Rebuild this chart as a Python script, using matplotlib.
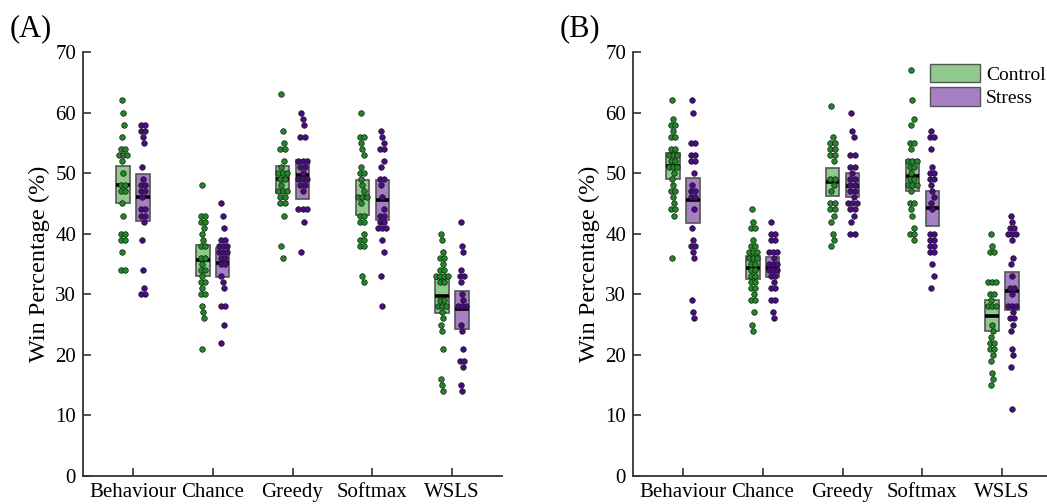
import matplotlib
matplotlib.use("Agg")
import matplotlib.pyplot as plt
from matplotlib.patches import Rectangle, Patch
from collections import Counter

plt.rcParams["font.family"] = ["Liberation Serif", "DejaVu Serif"]

models = ["Behaviour", "Chance", "Greedy", "Softmax", "WSLS"]

# win percentages per participant
a_control = [
    [62, 60, 58, 56, 54, 54, 53, 53, 53, 52, 50, 48, 48, 47, 47, 45, 43, 40, 40, 39, 39, 37, 34, 34],
    [48, 43, 43, 42, 42, 41, 40, 39, 38, 38, 36, 36, 35, 34, 34, 33, 32, 32, 31, 30, 30, 28, 27, 26, 21],
    [63, 57, 55, 54, 54, 52, 51, 50, 50, 50, 49, 49, 48, 47, 47, 47, 46, 46, 45, 45, 43, 38, 36],
    [60, 56, 56, 55, 54, 53, 51, 50, 50, 49, 48, 47, 46, 46, 46, 45, 43, 43, 42, 42, 40, 39, 39, 38, 38, 33, 32],
    [40, 39, 37, 36, 36, 35, 34, 34, 33, 33, 33, 33, 32, 32, 29, 29, 28, 28, 28, 27, 26, 25, 24, 21, 16, 15, 14],
]
a_stress = [
    [58, 58, 57, 57, 56, 55, 51, 49, 48, 48, 47, 47, 46, 44, 44, 43, 43, 42, 39, 34, 31, 30, 30],
    [45, 43, 41, 39, 39, 38, 38, 38, 37, 37, 37, 36, 36, 35, 35, 33, 32, 31, 28, 28, 25, 22],
    [60, 59, 58, 56, 56, 52, 52, 52, 51, 51, 50, 49, 49, 49, 48, 48, 47, 44, 44, 44, 42, 37],
    [57, 56, 55, 54, 54, 52, 51, 49, 49, 48, 46, 44, 43, 43, 42, 42, 41, 41, 41, 39, 37, 33, 28],
    [42, 38, 37, 34, 33, 33, 32, 30, 29, 28, 28, 28, 25, 24, 21, 19, 19, 18, 15, 14],
]
b_control = [
    [62, 59, 58, 58, 57, 56, 56, 54, 54, 53, 53, 53, 52, 52, 51, 51, 51, 50, 49, 48, 47, 47, 46, 45, 44, 44, 43, 36],
    [44, 42, 41, 41, 39, 38, 38, 37, 37, 37, 36, 36, 36, 35, 35, 34, 34, 33, 33, 32, 32, 31, 31, 30, 29, 29, 27, 25, 24],
    [61, 56, 55, 55, 54, 54, 53, 53, 52, 49, 49, 48, 47, 45, 45, 44, 44, 43, 42, 40, 39, 38],
    [67, 62, 59, 58, 55, 55, 54, 52, 52, 52, 51, 51, 50, 49, 49, 48, 48, 48, 47, 45, 45, 44, 43, 41, 40, 40, 39],
    [40, 38, 37, 37, 32, 32, 32, 30, 30, 29, 28, 28, 28, 25, 24, 23, 22, 22, 21, 21, 20, 19, 17, 16, 15],
]
b_stress = [
    [62, 60, 55, 55, 53, 53, 52, 52, 50, 48, 47, 47, 46, 46, 44, 41, 39, 38, 38, 37, 36, 29, 27, 26],
    [42, 40, 40, 39, 39, 37, 37, 37, 36, 35, 35, 35, 34, 34, 34, 33, 33, 32, 31, 31, 29, 29, 27, 26],
    [60, 57, 56, 53, 53, 51, 51, 50, 49, 49, 48, 48, 47, 47, 46, 45, 45, 45, 44, 44, 43, 42, 40, 40],
    [57, 56, 56, 54, 51, 50, 50, 49, 49, 48, 47, 46, 45, 44, 40, 40, 39, 39, 38, 38, 37, 37, 35, 33, 31],
    [43, 42, 41, 41, 40, 40, 40, 39, 36, 35, 33, 31, 31, 30, 28, 28, 28, 27, 26, 26, 25, 24, 21, 20, 18, 11],
]

# mean line and 95% CI box
a_control_mean = [48.0, 35.6, 49.1, 46.0, 29.7]
a_control_lo = [45.0, 33.0, 46.7, 43.1, 26.9]
a_control_hi = [51.1, 38.1, 51.2, 48.8, 32.5]
a_stress_mean = [46.0, 35.2, 49.7, 45.5, 27.5]
a_stress_lo = [42.1, 32.8, 45.7, 42.3, 24.3]
a_stress_hi = [49.8, 37.6, 52.2, 48.8, 30.6]
b_control_mean = [51.2, 34.4, 48.6, 49.6, 26.4]
b_control_lo = [49.0, 32.5, 46.3, 47.0, 23.9]
b_control_hi = [53.4, 36.3, 50.8, 52.2, 29.1]
b_stress_mean = [45.5, 34.4, 47.9, 44.2, 30.5]
b_stress_lo = [41.7, 32.8, 46.0, 41.3, 27.4]
b_stress_hi = [49.2, 36.1, 50.0, 47.1, 33.7]

GREEN_BOX, GREEN_DOT = "#8fc98c", "#1e8a24"
PURPLE_BOX, PURPLE_DOT = "#a67fc4", "#4a0a88"
AXIS_COL = "#333333"


def swarm_x(center, values, step=0.052):
    # spread tied values side by side, nudge singles a little
    counts = Counter(values)
    seen = Counter()
    xs = []
    for i, v in enumerate(values):
        k = counts[v]
        j = seen[v]
        seen[v] += 1
        if k == 1:
            xs.append(center + ((i % 3) - 1) * 0.015)
        else:
            xs.append(center + (j - (k - 1) / 2) * step)
    return xs


def draw_group(ax, pos, data, means, lo, hi, box_col, dot_col):
    w = 0.17
    for i, vals in enumerate(data):
        c = i + 1 + pos
        ax.add_patch(Rectangle((c - w / 2, lo[i]), w, hi[i] - lo[i], facecolor=box_col,
                               edgecolor="#555555", linewidth=1.2, zorder=2))
        ax.plot([c - w / 2, c + w / 2], [means[i], means[i]], color="black", lw=2.6, zorder=3,
                solid_capstyle="butt")
        ax.scatter(swarm_x(c, vals), vals, s=16, color=dot_col, edgecolor="#1a1a1a",
                   linewidth=0.5, zorder=4)


def style_axis(ax, label):
    ax.set_xlim(0.375, 5.625)
    ax.set_ylim(0, 70)
    ax.set_yticks(range(0, 71, 10))
    ax.set_xticks(range(1, 6))
    ax.set_xticklabels(models)
    for s in ["top", "right"]:
        ax.spines[s].set_visible(False)
    for s in ["left", "bottom"]:
        ax.spines[s].set_color(AXIS_COL)
        ax.spines[s].set_linewidth(1.3)
    ax.tick_params(direction="in", length=6, width=1.2, color=AXIS_COL, labelsize=15, pad=5)
    ax.set_ylabel("Win Percentage (%)", fontsize=17.5, labelpad=4)
    ax.text(-0.175, 1.055, label, transform=ax.transAxes, fontsize=22, va="center", ha="left")


fig = plt.figure(figsize=(10.47, 5.04), dpi=100)
ax_a = fig.add_axes([0.0793, 0.0556, 0.4002, 0.8413])
ax_b = fig.add_axes([0.6046, 0.0556, 0.4002, 0.8413])

draw_group(ax_a, -0.125, a_control, a_control_mean, a_control_lo, a_control_hi, GREEN_BOX, GREEN_DOT)
draw_group(ax_a, 0.125, a_stress, a_stress_mean, a_stress_lo, a_stress_hi, PURPLE_BOX, PURPLE_DOT)
draw_group(ax_b, -0.125, b_control, b_control_mean, b_control_lo, b_control_hi, GREEN_BOX, GREEN_DOT)
draw_group(ax_b, 0.125, b_stress, b_stress_mean, b_stress_lo, b_stress_hi, PURPLE_BOX, PURPLE_DOT)

style_axis(ax_a, "(A)")
style_axis(ax_b, "(B)")

handles = [Patch(facecolor=GREEN_BOX, edgecolor="#555555", label="Control"),
           Patch(facecolor=PURPLE_BOX, edgecolor="#555555", label="Stress")]
ax_b.legend(handles=handles, loc="upper left", bbox_to_anchor=(0.68, 1.0), frameon=False,
            fontsize=14, handlelength=2.6, handleheight=1.1, handletextpad=0.3,
            labelspacing=0.2, borderaxespad=0.2)

fig.savefig("out.png", dpi=100)
